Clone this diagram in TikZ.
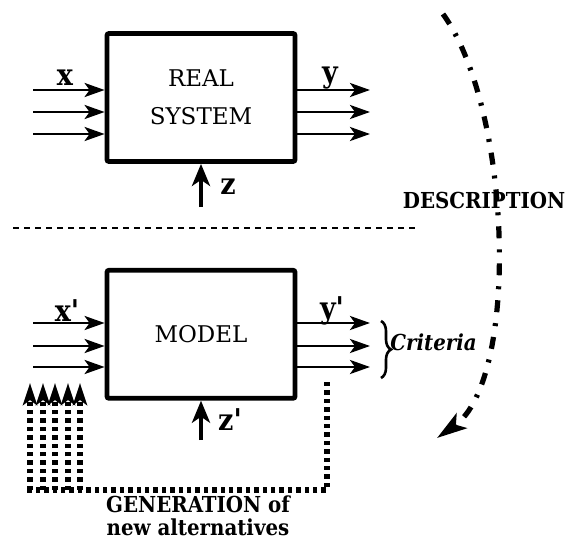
\documentclass[tikz,border=0pt]{standalone}
\usepackage{fontspec}
\setmainfont{DejaVu Serif}
\newfontfamily\condfont{DejaVu Serif Condensed}
\usetikzlibrary{arrows.meta,positioning,decorations.pathreplacing}

\begin{document}
\begin{tikzpicture}[
    x=0.5pt, y=-0.5pt,
    sysbox/.style={rectangle, draw, line width=2.4pt, rounded corners=1pt, minimum width=94pt, minimum height=64pt, align=center, font=\fontsize{11.5}{19}\selectfont},
    flow/.style={line width=1.4pt, -{Stealth[length=10pt, width=7pt, inset=2.5pt]}},
    envflow/.style={line width=2pt, -{Stealth[length=11pt, width=9pt, inset=3pt]}},
    lbl/.style={font=\condfont\fontsize{15}{16}\selectfont\bfseries, inner sep=0pt},
    note/.style={font=\condfont\fontsize{11}{11}\selectfont\bfseries, inner sep=0pt, align=center},
    sepline/.style={line width=0.9pt, dash pattern=on 3pt off 2.5pt},
    feedback/.style={line width=2.6pt, dash pattern=on 2.2pt off 2pt},
    descline/.style={line width=2.6pt, dash pattern=on 6pt off 5.5pt on 1.5pt off 5.5pt}
]
\useasboundingbox (0,0) rectangle (574,541);

% The real system and its model
\node[sysbox] (real) at (201,97.5) {REAL\\SYSTEM};
\node[sysbox, below=52pt of real] (model) {MODEL};

% Inputs and outputs
\foreach \yy [count=\i] in {90,112,134} {
  \coordinate (xin\i) at (33,\yy);
  \coordinate (yout\i) at (370,\yy);
  \draw[flow] (xin\i) -- (xin\i -| real.west);
  \draw[flow] (yout\i -| real.east) -- (yout\i);
}
\foreach \yy [count=\i] in {323,346,367} {
  \coordinate (xmin\i) at (33,\yy);
  \coordinate (ymout\i) at (370,\yy);
  \draw[flow] (xmin\i) -- (xmin\i -| model.west);
  \draw[flow] (ymout\i -| model.east) -- (ymout\i);
}
\coordinate (zin) at (201,207);
\coordinate (zmin) at (201,440);
\draw[envflow] (zin) -- (real.south);
\draw[envflow] (zmin) -- (model.south);

% Labels
\node[lbl] (xlab) at (65,78) {x};
\node[lbl] (ylab) at (330,78) {y};
\node[lbl] (zlab) at (228,187) {z};
\node[lbl] (xmlab) at (67,311) {x\textquotesingle};
\node[lbl] (ymlab) at (332,311) {y\textquotesingle};
\node[lbl] (zmlab) at (230,420) {z\textquotesingle};

% Separator
\coordinate (sepl) at (13,228);
\coordinate (sepr) at (415,228);
\draw[sepline] (sepl) -- (sepr);

% Criteria brace
\coordinate (bracetop) at (381,321);
\coordinate (bracebot) at (381,378);
\draw[line width=1.3pt, decorate, decoration={brace, amplitude=5pt}] (bracetop) -- (bracebot);
\node[note, font=\condfont\fontsize{11}{11}\selectfont\bfseries\itshape, anchor=west] (crit) at (390,342) {Criteria};

% Description arc
\coordinate (dstart) at (443,14);
\coordinate (dend) at (437,438);
\draw[descline, -{Stealth[length=15pt, width=9pt, inset=3.5pt]}] (dstart) .. controls (512,110) and (520,380) .. (dend);
\node[note] (desc) at (484,200) {DESCRIPTION};

% Feedback: generation of new alternatives
\coordinate (ytap) at (327,382);
\coordinate (fbleft) at (27,490);
\draw[feedback] (ytap) |- (fbleft);
\foreach \xx [count=\i] in {30,43,55,68,80} {
  \coordinate (gen\i) at (\xx,490);
  \coordinate (alt\i) at (\xx,383);
  \draw[feedback, -{Stealth[length=11pt, width=7pt, inset=2.5pt]}] (gen\i) -- (alt\i);
}
\node[note, font=\condfont\fontsize{11}{11.5}\selectfont\bfseries] (genlab) at (198,516) {GENERATION of\\new alternatives};
\end{tikzpicture}
\end{document}
